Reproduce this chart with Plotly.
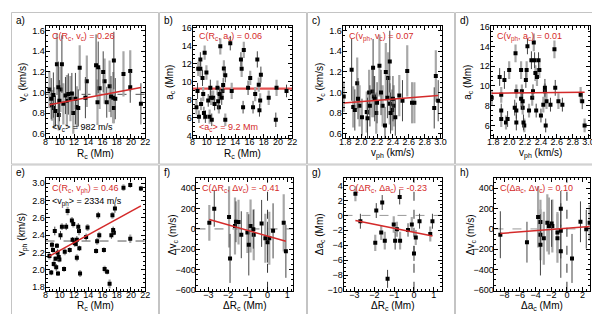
import plotly.graph_objects as go

# ---------------- data ----------------
# a) R_c vs v_c
Ra = [8.55, 8.8, 8.9, 9.1, 9.2, 9.4, 9.6, 9.8, 9.85, 9.95, 10.1, 10.3, 10.5, 10.8, 11.0, 11.2, 11.5, 11.7, 11.9, 12.2,
      12.4, 12.6, 12.8, 13.6, 13.8, 15.1, 15.3, 15.4, 15.6, 16.1, 16.3, 16.6, 17.0, 17.2, 17.5, 17.6, 17.6, 17.8, 18.95, 19.9,
      19.9, 21.4]
va = [1.03, 0.94, 0.875, 0.975, 0.85, 0.82, 1.275, 1.05, 0.78, 0.92, 1.03, 1.275, 0.89, 0.97, 0.92, 0.985, 0.94, 0.99, 0.80, 0.94,
      0.86, 0.85, 1.24, 0.95, 1.11, 1.265, 0.905, 1.245, 1.04, 1.20, 1.11, 0.905, 1.06, 0.96, 0.95, 1.31, 0.85, 0.94, 1.18, 1.05,
      1.21, 0.89]
va_err = [0.18, 0.2, 0.15, 0.22, 0.2, 0.15, 0.3, 0.25, 0.15, 0.2, 0.22, 0.28, 0.2, 0.18, 0.25, 0.2, 0.22, 0.2, 0.2, 0.25,
          0.2, 0.18, 0.22, 0.2, 0.25, 0.3, 0.22, 0.25, 0.2, 0.2, 0.22, 0.15, 0.25, 0.2, 0.25, 0.28, 0.15, 0.2, 0.22, 0.15,
          0.2, 0.2]
fit_a = [0.769, 0.0131]
mean_vc = 0.982

# b) R_c vs a_c
Rb = [8.55, 8.7, 8.8, 8.9, 9.1, 9.1, 9.2, 9.4, 9.5, 9.6, 9.7, 9.8, 9.95, 10.2, 10.4, 10.5, 10.6, 10.7, 10.9, 11.1,
      11.5, 11.6, 11.7, 11.8, 11.9, 12.1, 12.2, 12.3, 12.4, 12.6, 12.6, 13.3, 13.5, 14.8, 14.9, 15.1, 15.2, 15.8, 16.1, 16.5,
      16.8, 17.1, 17.3, 17.4, 17.5, 17.6, 18.7, 19.7, 19.8, 21.2]
ab = [7.15, 8.95, 11.4, 6.1, 11.4, 12.45, 7.5, 10.4, 8.6, 6.5, 13.2, 6.1, 11.0, 7.9, 6.1, 9.3, 8.2, 5.75, 8.2, 7.5,
      9.3, 7.8, 7.15, 8.6, 13.9, 8.2, 8.95, 9.6, 11.45, 10.7, 5.75, 14.25, 8.95, 12.45, 11.4, 7.15, 13.5, 9.3, 10.4, 7.15,
      8.6, 12.45, 9.65, 6.8, 7.9, 10.75, 8.2, 5.75, 9.3, 8.95]
ab_err = [0.8, 0.9, 0.8, 0.7, 0.9, 0.8, 0.7, 0.9, 0.8, 0.7, 0.8, 0.7, 0.8, 0.7, 0.8, 0.9, 0.8, 0.7, 0.8, 0.7,
          0.8, 0.9, 0.7, 0.8, 0.9, 0.8, 0.7, 0.8, 0.9, 0.8, 0.7, 0.8, 0.9, 0.8, 0.9, 0.7, 0.9, 0.8, 0.8, 0.7,
          0.8, 0.9, 0.8, 0.7, 0.8, 0.9, 0.8, 0.8, 0.9, 0.7]
mean_ac = 9.2

# c) v_ph vs v_c
vph_c = [1.78, 1.88, 1.9, 1.92, 1.95, 1.96, 1.98, 2.01, 2.07, 2.08, 2.1, 2.11, 2.14, 2.15, 2.16, 2.17, 2.19, 2.2, 2.23, 2.25,
         2.27, 2.3, 2.31, 2.33, 2.34, 2.36, 2.36, 2.37, 2.39, 2.4, 2.41, 2.43, 2.48, 2.52, 2.58, 2.64, 2.67, 2.92, 2.94, 2.97]
vc_c = [0.96, 1.22, 0.86, 0.83, 1.09, 0.94, 0.87, 0.76, 0.81, 0.75, 1.0, 0.87, 1.01, 1.24, 0.96, 0.94, 0.8, 0.9, 1.26, 1.0,
        0.87, 0.68, 1.2, 0.95, 1.14, 1.3, 0.89, 0.8, 0.83, 0.94, 0.87, 0.76, 0.97, 0.92, 1.21, 0.9, 0.9, 0.85, 1.16, 0.92]
vc_c_err = [0.15, 0.3, 0.2, 0.2, 0.25, 0.2, 0.2, 0.18, 0.2, 0.2, 0.22, 0.2, 0.25, 0.28, 0.2, 0.22, 0.2, 0.2, 0.3, 0.22,
            0.2, 0.18, 0.28, 0.2, 0.25, 0.3, 0.2, 0.2, 0.2, 0.22, 0.2, 0.18, 0.2, 0.2, 0.25, 0.2, 0.2, 0.2, 0.25, 0.2]
fit_c = [0.792, 0.06]

# d) v_ph vs a_c
vph_d = [1.78, 1.88, 1.9, 1.9, 1.9, 1.94, 1.96, 1.98, 2.0, 2.07, 2.08, 2.09, 2.09, 2.09, 2.15, 2.15, 2.16, 2.17, 2.17, 2.18,
         2.19, 2.21, 2.22, 2.23, 2.25, 2.28, 2.29, 2.3, 2.31, 2.32, 2.33, 2.34, 2.35, 2.37, 2.38, 2.4, 2.43, 2.45, 2.45, 2.46,
         2.47, 2.52, 2.57, 2.58, 2.62, 2.67, 2.9, 2.92, 2.95]
ad = [8.8, 10.9, 9.1, 7.5, 6.65, 10.6, 6.3, 6.65, 11.6, 7.8, 13.3, 7.5, 9.45, 6.3, 11.6, 8.7, 9.45, 8.45, 7.8, 6.3,
      6.0, 10.6, 11.6, 14.0, 7.5, 12.6, 8.8, 9.45, 14.4, 12.6, 11.3, 7.5, 10.9, 12.6, 11.6, 7.0, 8.1, 9.8, 9.45, 6.0,
      8.45, 8.1, 13.7, 9.8, 8.45, 8.1, 9.1, 8.45, 6.0]
ad_err = [0.8, 0.9, 0.8, 0.7, 0.8, 0.9, 0.7, 0.8, 0.9, 0.8, 0.9, 0.8, 0.7, 0.8, 0.9, 0.8, 0.7, 0.8, 0.7, 0.8,
          0.7, 0.8, 0.9, 0.8, 0.7, 0.9, 0.8, 0.7, 0.9, 0.8, 0.8, 0.7, 0.9, 0.8, 0.8, 0.7, 0.8, 0.9, 0.8, 0.7,
          0.8, 0.7, 0.9, 0.8, 0.8, 0.7, 0.8, 0.8, 0.7]
fit_d = [9.1, 0.085]

# e) R_c vs v_ph
Re = [8.55, 8.8, 8.9, 9.05, 9.15, 9.3, 9.4, 9.5, 9.6, 9.7, 9.75, 9.85, 9.95, 10.1, 10.3, 10.6, 10.7, 10.9, 11.1, 11.4,
      11.7, 11.8, 11.9, 12.1, 12.25, 12.4, 12.4, 12.6, 12.7, 12.75, 12.85, 13.7, 13.9, 15.1, 15.25, 15.4, 15.55, 16.2, 16.3, 16.65,
      17.0, 17.25, 17.4, 17.5, 17.6, 17.75, 18.95, 19.9, 19.9, 21.4]
vph_e = [2.16, 1.97, 2.29, 2.23, 2.07, 2.45, 2.13, 2.03, 2.28, 2.2, 1.96, 2.15, 2.12, 2.4, 2.5, 2.01, 2.21, 2.5, 2.68, 2.23,
         2.57, 2.35, 2.53, 2.31, 2.3, 2.35, 2.14, 2.5, 2.45, 2.25, 1.96, 2.38, 2.49, 2.22, 2.33, 2.63, 2.4, 2.23, 2.01, 1.98,
         1.84, 2.4, 2.63, 2.46, 2.43, 2.71, 2.95, 2.98, 2.36, 2.94]
vph_e_err = [0.04, 0.03, 0.04, 0.03, 0.04, 0.05, 0.03, 0.04, 0.03, 0.04, 0.03, 0.04, 0.03, 0.05, 0.04, 0.03, 0.04, 0.04, 0.05, 0.03,
             0.04, 0.03, 0.04, 0.04, 0.03, 0.04, 0.04, 0.04, 0.05, 0.03, 0.04, 0.04, 0.04, 0.03, 0.04, 0.04, 0.04, 0.03, 0.04, 0.03,
             0.05, 0.04, 0.04, 0.04, 0.03, 0.05, 0.04, 0.03, 0.05, 0.03]
fit_e = [1.774, 0.0451]
mean_vph = 2.334

# f, g, h) differences
dR = [-2.95, -2.7, -1.95, -1.9, -1.65, -1.6, -1.47, -1.33, -1.02, -0.95, -0.86, -0.72, -0.7, -0.3, -0.11, 0.0, 0.09, 0.28, 0.82, 0.93]
da = [2.9, -0.78, -3.68, 0.65, -2.3, 1.73, -3.38, -8.5, -1.21, -3.38, -1.86, 2.47, -3.38, -1.95, -1.21, -5.1, -2.95, -0.78, -2.5, -0.78]
dv = [60, 197, 117, -289, 29, 70, 67, -57, -35, -156, 29, -3, -57, 54, -92, -130, -92, -19, 60, -219]
dv_err = [175, 175, 300, 240, 280, 200, 220, 230, 200, 300, 260, 190, 250, 230, 240, 200, 260, 270, 280, 260]
da_err = [1.0, 1.0, 1.1, 1.0, 1.0, 1.0, 1.2, 1.2, 1.1, 1.2, 1.0, 1.0, 1.2, 0.9, 1.0, 1.0, 1.0, 1.0, 1.0, 1.0]
fit_f = [-70.0, -54.9]
fit_g = [-2.27, -0.54]
fit_h = [7.0, 6.0]

# ---------------- layout helpers ----------------
W, H = 600, 314
RED = "#d42a2a"
FONT = "Liberation Sans"

fig = go.Figure()

# plot-area boxes in pixels: (left, right, top, bottom)
boxes = {
    1: (35, 136, 14, 130), 2: (184, 285, 14, 130), 3: (336, 437, 14, 130), 4: (486, 587, 14, 130),
    5: (35, 136, 171, 287), 6: (188, 286, 171, 287), 7: (337, 437, 171, 287), 8: (490, 587, 171, 287),
}


def axname(i, a):
    return a if i == 1 else f"{a}{i}"


def add_points(i, x, y, err):
    xa, ya = axname(i, "x"), axname(i, "y")
    fig.add_trace(go.Scatter(
        x=x[::2], y=y[::2], mode="markers", xaxis=xa, yaxis=ya,
        marker=dict(symbol="square", size=4, color="black"),
        error_y=dict(type="data", array=err[::2], color="#a8a8a8", thickness=2.2, width=0),
        showlegend=False, hoverinfo="skip"))
    fig.add_trace(go.Scatter(
        x=x[1::2], y=y[1::2], mode="markers", xaxis=xa, yaxis=ya,
        marker=dict(symbol="square", size=4, color="black"),
        error_y=dict(type="data", array=err[1::2], color="#444444", thickness=1, width=0),
        showlegend=False, hoverinfo="skip"))


def add_fit(i, x, fit, width=1.5, color=RED):
    xs = [min(x), max(x)]
    ys = [fit[0] + fit[1] * v for v in xs]
    fig.add_trace(go.Scatter(x=xs, y=ys, mode="lines", xaxis=axname(i, "x"), yaxis=axname(i, "y"),
                             line=dict(color=color, width=width), showlegend=False, hoverinfo="skip"))


def hline(i, yv, color="#555", dash="dash", width=1):
    fig.add_shape(type="line", xref=f"{axname(i, 'x')} domain", yref=axname(i, "y"),
                  x0=0, x1=1, y0=yv, y1=yv, line=dict(color=color, width=width, dash=dash), layer="below")


def vline(i, xv, color="#555", dash="dash", width=1):
    fig.add_shape(type="line", xref=axname(i, "x"), yref=f"{axname(i, 'y')} domain",
                  x0=xv, x1=xv, y0=0, y1=1, line=dict(color=color, width=width, dash=dash), layer="below")


def note(i, text, xd, yd, color=RED, yanchor="top"):
    fig.add_annotation(xref=f"{axname(i, 'x')} domain", yref=f"{axname(i, 'y')} domain",
                       x=xd, y=yd, text=text, showarrow=False, xanchor="left", yanchor=yanchor,
                       font=dict(family=FONT, size=9, color=color))


axis_cfg = {
    1: dict(xr=[8, 22], xd=2, yr=[0.555, 1.65], yd=0.2, yf=".1f", xf="", xt="R<sub>c</sub> (Mm)", yt="v<sub>c</sub> (km/s)"),
    2: dict(xr=[8, 22], xd=2, yr=[3.7, 16.2], yd=2, yf="", xf="", xt="R<sub>c</sub> (Mm)", yt="a<sub>c</sub> (Mm)"),
    3: dict(xr=[1.765, 3.02], xd=0.2, yr=[0.555, 1.65], yd=0.2, yf=".1f", xf=".1f", xt="v<sub>ph</sub> (km/s)", yt="v<sub>c</sub> (km/s)"),
    4: dict(xr=[1.765, 3.02], xd=0.2, yr=[4.7, 16.1], yd=2, yf="", xf=".1f", xt="v<sub>ph</sub> (km/s)", yt="a<sub>c</sub> (Mm)"),
    5: dict(xr=[8, 22], xd=2, yr=[1.76, 3.06], yd=0.2, yf=".1f", xf="", xt="R<sub>c</sub> (Mm)", yt="v<sub>ph</sub> (km/s)"),
    6: dict(xr=[-3.6, 1.3], xd=1, yr=[-606, 498], yd=200, yf="", xf="", xt="ΔR<sub>c</sub> (Mm)", yt="Δv<sub>c</sub> (m/s)"),
    7: dict(xr=[-3.55, 1.42], xd=1, yr=[-10.1, 5.0], yd=2, yf="", xf="", xt="ΔR<sub>c</sub> (Mm)", yt="Δa<sub>c</sub> (Mm)"),
    8: dict(xr=[-9.25, 2.97], xd=2, yr=[-606, 498], yd=200, yf="", xf="", xt="Δa<sub>c</sub> (Mm)", yt="Δv<sub>c</sub> (m/s)"),
}

layout = dict(width=W, height=H, margin=dict(l=0, r=0, t=0, b=0),
              paper_bgcolor="white", plot_bgcolor="white", font=dict(family=FONT, size=9, color="black"))

for i, (l, r, t, b) in boxes.items():
    c = axis_cfg[i]
    common = dict(showline=True, linecolor="black", linewidth=1, mirror="ticks", ticks="inside",
                  ticklen=4, tickcolor="black", showgrid=False, zeroline=False,
                  tickfont=dict(family=FONT, size=9, color="black"),
                  minor=dict(ticks="inside", ticklen=2, tickcolor="black"))
    xkey = "xaxis" if i == 1 else f"xaxis{i}"
    ykey = "yaxis" if i == 1 else f"yaxis{i}"
    layout[xkey] = dict(common, domain=[l / W, r / W], range=c["xr"], dtick=c["xd"], tickformat=c["xf"],
                        anchor=axname(i, "y"), ticklabelstandoff=-5)
    layout[ykey] = dict(common, domain=[1 - b / H, 1 - t / H], range=c["yr"], dtick=c["yd"], tickformat=c["yf"],
                        anchor=axname(i, "x"), ticklabelstandoff=-2)

fig.update_layout(**layout)

# axis titles as annotations (exact placement)
for i, (l, r, t, b) in boxes.items():
    c = axis_cfg[i]
    fig.add_annotation(xref="paper", yref="paper", x=(l + r) / 2 / W, y=1 - (b + 16) / H,
                       text=c["xt"], showarrow=False, xanchor="center", yanchor="middle",
                       font=dict(family=FONT, size=10, color="black"))
    fig.add_annotation(xref="paper", yref="paper", x=(l - 23) / W, y=1 - (t + b) / 2 / H,
                       text=c["yt"], showarrow=False, xanchor="center", yanchor="middle", textangle=-90,
                       font=dict(family=FONT, size=10, color="black"))

# ---------------- panels ----------------
# a
hline(1, mean_vc)
add_points(1, Ra, va, va_err)
add_fit(1, Ra, fit_a)
note(1, "C(R<sub>c</sub>, v<sub>c</sub>) = 0.26", 0.04, 0.97)
note(1, "&lt;v<sub>c</sub>&gt; = 982 m/s", 0.04, 0.03, color="black", yanchor="bottom")

# b
add_points(2, Rb, ab, ab_err)
hline(2, mean_ac, color="rgba(225,50,50,0.85)", dash="solid", width=2.2)
note(2, "C(R<sub>c</sub>, a<sub>c</sub>) = 0.06", 0.04, 0.97)
note(2, "&lt;a<sub>c</sub>&gt; = 9.2 Mm", 0.04, 0.03, yanchor="bottom")

# c
add_points(3, vph_c, vc_c, vc_c_err)
add_fit(3, vph_c, fit_c)
note(3, "C(v<sub>ph</sub>, v<sub>c</sub>) = 0.07", 0.04, 0.97)

# d
add_points(4, vph_d, ad, ad_err)
add_fit(4, vph_d, fit_d)
note(4, "C(v<sub>ph</sub>, a<sub>c</sub>) = 0.01", 0.04, 0.97)

# e
hline(5, mean_vph)
add_points(5, Re, vph_e, vph_e_err)
add_fit(5, Re, fit_e)
note(5, "C(R<sub>c</sub>, v<sub>ph</sub>) = 0.46", 0.04, 0.97)
note(5, "&lt;v<sub>ph</sub>&gt; = 2334 m/s", 0.04, 0.86, color="black")

# f
hline(6, 0, color="#777")
vline(6, 0, color="#333")
add_points(6, dR, dv, dv_err)
add_fit(6, dR, fit_f)
note(6, "C(ΔR<sub>c</sub>, Δv<sub>c</sub>) = -0.41", 0.04, 0.97)

# g
hline(7, 0, color="#999")
vline(7, 0, color="#333")
add_points(7, dR, da, da_err)
add_fit(7, dR, fit_g)
note(7, "C(ΔR<sub>c</sub>, Δa<sub>c</sub>) = -0.23", 0.04, 0.97)

# h
hline(8, 0, color="#999")
vline(8, 0, color="#333")
add_points(8, da, dv, dv_err)
add_fit(8, da, fit_h)
note(8, "C(Δa<sub>c</sub>, Δv<sub>c</sub>) = 0.10", 0.04, 0.97)

# panel frames and letters
letters = ["a)", "b)", "c)", "d)", "e)", "f)", "g)", "h)"]
for k in range(8):
    col, row = k % 4, k // 4
    x0, y0 = col * 150, row * 157
    fig.add_shape(type="rect", xref="paper", yref="paper",
                  x0=(x0 + 0.5) / W, x1=(x0 + 149.5) / W,
                  y0=1 - (y0 + 156.5) / H, y1=1 - (y0 + 0.5) / H,
                  line=dict(color="#c4c4c4", width=1), layer="below")
    fig.add_annotation(xref="paper", yref="paper", x=(x0 + 3) / W, y=1 - (y0 + 1) / H,
                       text=letters[k], showarrow=False, xanchor="left", yanchor="top",
                       font=dict(family=FONT, size=10, color="black"))

fig.write_html("out.html")
